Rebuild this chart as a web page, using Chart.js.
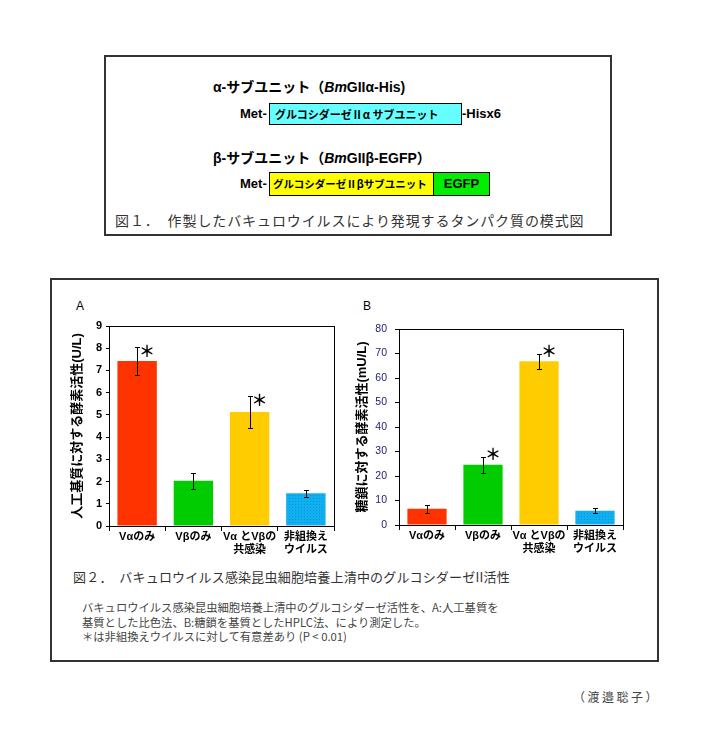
<!DOCTYPE html>
<html>
<head>
<meta charset="utf-8">
<script src="https://cdn.jsdelivr.net/npm/chart.js@4"></script>
<style>
  body { margin: 0; width: 705px; height: 734px; background: #fff; position: relative; overflow: hidden;
         font-family: "Liberation Sans", Arial, "Noto Sans CJK JP", sans-serif; color: #000; }
  .abs { position: absolute; white-space: nowrap; }
  .frame { position: absolute; border: 2px solid #333; box-sizing: border-box; }
  .bold { font-weight: bold; }
  .seg { position: absolute; box-sizing: border-box; border: 1px solid #000; font-weight: bold; font-size: 11px;
         padding-left: 5px; font-family: "Noto Sans CJK JP", sans-serif; }
  .cap { font-family: "Noto Sans CJK JP", sans-serif; color: #333; }
  canvas { position: absolute; }
</style>
</head>
<body>

<!-- figure 1 : construct diagram -->
<div class="frame" style="left:104px;top:55px;width:508px;height:181px;"></div>
<div class="abs bold" style="left:213px;top:78px;font-size:14px;line-height:18px;">α-サブユニット（<i>Bm</i>GIIα-His)</div>
<div class="abs bold" style="left:240px;top:106px;font-size:13px;line-height:16px;">Met-</div>
<div class="seg" style="left:269px;top:103px;width:193px;height:22px;line-height:20px;background:#66ffff;">グルコシダーゼⅡα サブユニット</div>
<div class="abs bold" style="left:462px;top:106px;font-size:13px;line-height:16px;">-Hisx6</div>

<div class="abs bold" style="left:213px;top:149px;font-size:14px;line-height:18px;">β-サブユニット（<i>Bm</i>GIIβ-EGFP）</div>
<div class="abs bold" style="left:240px;top:176px;font-size:13px;line-height:16px;">Met-</div>
<div class="seg" style="left:269px;top:172px;width:165px;height:24px;line-height:22px;background:#ffff00;font-size:10.5px;padding-left:3px;">グルコシダーゼⅡβサブユニット</div>
<div class="seg" style="left:433px;top:172px;width:57px;height:24px;line-height:22px;background:#00ee00;font-size:13px;padding-left:0;text-align:center;font-family:'Liberation Sans',Arial,sans-serif;">EGFP</div>
<div class="abs cap" style="left:115px;top:211px;font-size:14px;line-height:18px;letter-spacing:0.9px;">図１．　作製したバキュロウイルスにより発現するタンパク質の模式図</div>

<!-- figure 2 : activity charts -->
<div class="frame" style="left:50px;top:278px;width:609px;height:384px;"></div>
<div class="abs" style="left:76px;top:298px;font-size:12px;line-height:16px;">A</div>
<div class="abs" style="left:363px;top:298px;font-size:12px;line-height:16px;">B</div>
<canvas id="chartA" width="290" height="250" style="left:55px;top:312px;"></canvas>
<canvas id="chartB" width="290" height="250" style="left:350px;top:312px;"></canvas>
<div class="abs cap" style="left:73px;top:568px;font-size:13px;line-height:18px;letter-spacing:0.2px;">図２．　バキュロウイルス感染昆虫細胞培養上清中のグルコシダーゼII活性</div>
<div class="abs cap" style="left:82px;top:600px;font-size:11.3px;line-height:14.5px;color:#444;">
  バキュロウイルス感染昆虫細胞培養上清中のグルコシダーゼ活性を、A:人工基質を<br>
  基質とした比色法、B:糖鎖を基質としたHPLC法、により測定した。<br>
  ＊は非組換えウイルスに対して有意差あり (P &lt; 0.01)
</div>
<div class="abs cap" style="left:573px;top:689px;font-size:12px;line-height:16px;letter-spacing:2.5px;color:#444;">（渡邉聡子）</div>

<script>
// Chart data
const categories = ['Vαのみ', 'Vβのみ', ['Vα とVβの', '共感染'], ['非組換え', 'ウイルス']];

// A: artificial substrate (U/L)
const activityA = [7.43, 2.04, 5.13, 1.47];
const errorA = [0.63, 0.36, 0.70, 0.15];
const starA = [true, false, true, false];

// B: sugar chain substrate (mU/L)
const activityB = [6.6, 24.6, 66.8, 5.8];
const errorB = [1.5, 3.2, 3.2, 1.1];
const starB = [false, true, true, false];

const barColors = ['#ff3300', '#00cc00', '#ffcc00'];
const FONT = '"Liberation Sans", Arial, "Noto Sans CJK JP", sans-serif';

// dotted fill for the control bar
function dotPattern() {
  const c = document.createElement('canvas');
  c.width = 3; c.height = 3;
  const g = c.getContext('2d');
  g.fillStyle = '#10b0f0';
  g.fillRect(0, 0, 3, 3);
  g.fillStyle = '#0a95d8';
  g.fillRect(0, 0, 1, 1);
  return g.createPattern(c, 'repeat');
}

// error bars, significance stars and the plot frame
const errorBarPlugin = {
  id: 'errorBars',
  afterDatasetsDraw(chart, args, opts) {
    const ctx = chart.ctx;
    const yScale = chart.scales.y;
    const bars = chart.getDatasetMeta(0).data;
    ctx.save();
    ctx.strokeStyle = '#000';
    ctx.lineWidth = 1;
    bars.forEach((bar, i) => {
      const v = opts.values[i], e = opts.errors[i];
      const x = Math.round(bar.x) + 0.5;
      const top = Math.round(yScale.getPixelForValue(v + e)) + 0.5;
      const bot = Math.round(yScale.getPixelForValue(v - e)) + 0.5;
      ctx.beginPath();
      ctx.moveTo(x, top); ctx.lineTo(x, bot);
      ctx.moveTo(x - 2.5, top); ctx.lineTo(x + 2.5, top);
      ctx.moveTo(x - 2.5, bot); ctx.lineTo(x + 2.5, bot);
      ctx.stroke();
      if (opts.stars[i]) {
        ctx.fillStyle = '#000';
        ctx.font = 'bold 16px "Noto Sans CJK JP", sans-serif';
        ctx.textAlign = 'center';
        ctx.textBaseline = 'middle';
        ctx.fillText('＊', bar.x + 10, top + opts.starDy);
      }
    });
    const a = chart.chartArea;
    ctx.strokeRect(Math.round(a.left) + 0.5, Math.round(a.top) + 0.5,
                   Math.round(a.right - a.left), Math.round(a.bottom - a.top));
    ctx.restore();
  }
};

function makeChart(id, cfg) {
  return new Chart(document.getElementById(id), {
    type: 'bar',
    data: {
      labels: categories,
      datasets: [{
        data: cfg.values,
        backgroundColor: barColors.concat([dotPattern()]),
        borderWidth: 0,
        barPercentage: 0.7,
        categoryPercentage: 1
      }]
    },
    options: {
      responsive: false,
      animation: false,
      devicePixelRatio: 1,
      layout: { padding: { top: cfg.padTop, right: cfg.padRight, left: 0, bottom: 0 } },
      plugins: {
        legend: { display: false },
        tooltip: { enabled: false },
        errorBars: { values: cfg.values, errors: cfg.errors, stars: cfg.stars, starDy: cfg.starDy }
      },
      scales: {
        x: {
          grid: { offset: true, drawOnChartArea: false, tickLength: 5, color: '#000' },
          border: { color: '#000', width: 1 },
          ticks: { color: '#000', padding: 0, maxRotation: 0, autoSkip: false,
                   font: { family: FONT, size: 11, weight: 'bold', lineHeight: 1.15 } },
          afterFit(scale) { scale.height = cfg.xHeight; }
        },
        y: {
          min: 0,
          max: cfg.max,
          grid: { drawOnChartArea: false, tickLength: cfg.tickLen, color: '#000' },
          border: { color: '#000', width: 1 },
          ticks: { stepSize: cfg.step, color: cfg.tickColor, padding: cfg.tickPad, autoSkip: false,
                   font: { family: FONT, size: cfg.tickSize, weight: cfg.tickWeight } },
          title: {
            display: true,
            text: cfg.title,
            color: '#000',
            padding: { top: cfg.titlePad, bottom: 0 },
            font: { family: FONT, size: 13, weight: 'bold', lineHeight: 1.2 }
          },
          afterFit(scale) { scale.width = cfg.yWidth; }
        }
      }
    },
    plugins: [errorBarPlugin]
  });
}

makeChart('chartA', {
  values: activityA, errors: errorA, stars: starA, starDy: 3,
  max: 9, step: 1, title: '人工基質に対する酵素活性(U/L)',
  padTop: 14, padRight: 11, yWidth: 54, xHeight: 36, titlePad: 15,
  tickLen: 3, tickPad: 4, tickColor: '#000', tickSize: 11, tickWeight: 'bold'
});

makeChart('chartB', {
  values: activityB, errors: errorB, stars: starB, starDy: -4,
  max: 80, step: 10, title: '糖鎖に対する酵素活性(mU/L)',
  padTop: 17, padRight: 17, yWidth: 49, xHeight: 37, titlePad: 5,
  tickLen: 4, tickPad: 8, tickColor: '#1c1c6b', tickSize: 10.5, tickWeight: 'normal'
});
</script>
</body>
</html>
